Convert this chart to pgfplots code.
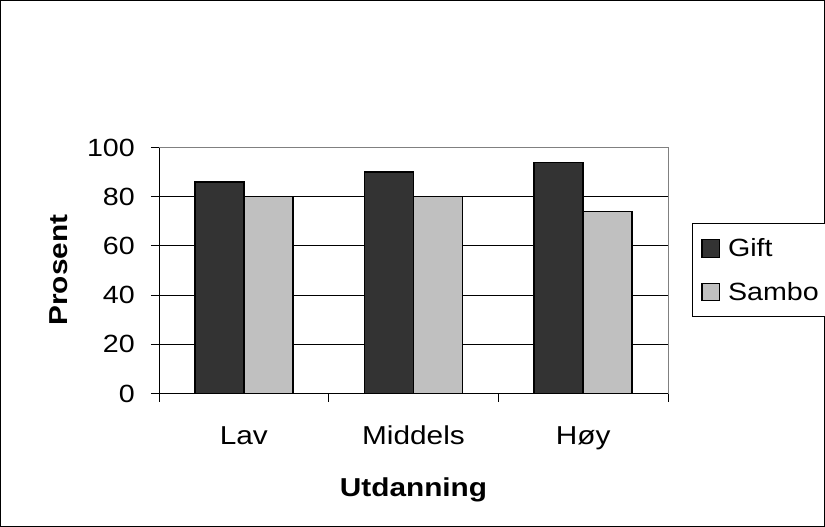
\documentclass[border=0pt]{standalone}
\usepackage{pgfplots}
\pgfplotsset{compat=1.18}
\usepackage{fontspec}
\setmainfont[FakeStretch=1.15]{Liberation Sans}
\definecolor{darkbar}{HTML}{333333}
\definecolor{lightbar}{HTML}{C0C0C0}
\definecolor{framegray}{HTML}{808080}
\begin{document}
\begin{tikzpicture}
\useasboundingbox (0,0) rectangle (825bp,527bp);
\draw[line width=1bp] (0.5bp,0.5bp) rectangle (824.5bp,526.5bp);
\begin{axis}[
  at={(159bp,133.5bp)}, anchor=south west,
  scale only axis, width=509bp, height=246bp,
  ybar=0pt, bar width=49bp,
  xmin=-0.5, xmax=2.5, ymin=0, ymax=100,
  ytick={0,20,40,60,80,100},
  xtick={-0.5,0.5,1.5,2.5}, xticklabels={},
  extra x ticks={0,1,2},
  extra x tick labels={Lav,Middels,Høy},
  extra x tick style={major tick length=0pt, grid=none,
     xticklabel style={anchor=base, yshift=-51bp, inner sep=0pt}},
  tick align=outside, major tick length=8bp,
  tick style={black, line width=1bp},
  axis x line*=bottom, axis y line*=left,
  axis line style={black, line width=1bp, -},
  ymajorgrids, grid style={black, line width=1bp},
  /pgf/number format/assume math mode=true,
  yticklabel style={font=\fontsize{25}{29}\selectfont, inner sep=0pt, xshift=-16bp},
  xticklabel style={font=\fontsize{26}{30}\selectfont},
  xlabel={Utdanning}, ylabel={Prosent},
  xlabel style={font=\fontsize{26}{30}\selectfont\bfseries, at={(axis description cs:0.5,-0.4167)}, anchor=base},
  ylabel style={font=\fontsize{26}{30}\selectfont\bfseries, at={(axis description cs:-0.179,0.502)}, anchor=base},
  legend style={at={(1.047,0.692)}, anchor=north west, draw=black, line width=1bp, fill=white,
    font=\fontsize{25}{29}\selectfont, legend cell align=left,
    row sep=20bp, inner xsep=9bp, inner ysep=13bp},
  legend image code/.code={\draw[#1, line width=1.2bp] (0bp,-8.8bp) rectangle (17.6bp,8.8bp);
     \path[draw=none, fill=none] (0bp,0bp) -- (24bp,0bp);},
  clip=false,
]
\draw[framegray, line width=1bp] (rel axis cs:0,1) -- (rel axis cs:1,1) -- (rel axis cs:1,0);
\addplot[fill=darkbar, draw=black, line width=1.5bp] coordinates {(0,86) (1,90) (2,94)};
\addplot[fill=lightbar, draw=black, line width=1.5bp] coordinates {(0,80) (1,80) (2,74)};
\legend{Gift,Sambo}
\end{axis}
\end{tikzpicture}
\end{document}
